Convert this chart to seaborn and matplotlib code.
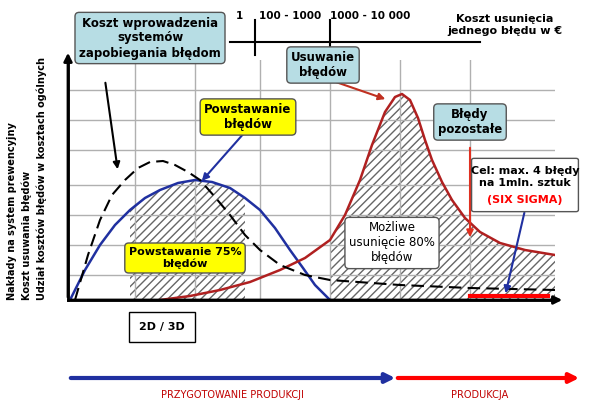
import numpy as np
import matplotlib
matplotlib.use("Agg")
import matplotlib.pyplot as plt
import seaborn as sns
from matplotlib.patches import FancyArrowPatch, FancyBboxPatch

# curve values (horizontal position along the process, cost level)
blue_x = [2, 17, 32, 47, 62, 77, 92, 110, 127, 144, 162, 177, 192, 207, 222, 235, 247, 262]
blue_y = [0, 30, 55, 75, 90, 102, 110, 117, 120, 118, 112, 102, 90, 72, 50, 32, 15, 0]
dash_x = [7, 20, 32, 44, 57, 70, 82, 95, 107, 120, 132, 147, 162, 177, 192, 212, 237, 262, 332, 402, 487]
dash_y = [0, 45, 80, 105, 120, 132, 138, 139, 135, 128, 120, 103, 85, 65, 50, 35, 25, 20, 15, 12, 10]
red_x = [92, 122, 152, 182, 212, 237, 262, 277, 292, 304, 317, 327, 334, 342, 350, 357, 364, 374, 384, 397, 412, 432, 457, 487]
red_y = [0, 4, 10, 18, 30, 42, 60, 85, 120, 155, 188, 203, 206, 200, 182, 160, 140, 118, 100, 82, 68, 57, 50, 45]
scale_labels = ["1", "100 - 1000", "1000 - 10 000"]
ylabels = ["Nakłady na system prewencyjny", "Koszt usuwania błędów",
           "Udział kosztów błędów w kosztach ogólnych"]

fig = plt.figure(figsize=(6.05, 4.12), dpi=100)
W, H = 605, 412
def F(x, y): return (x / W, 1 - y / H)

ax = fig.add_axes([68/W, 1-300/H, 487/W, 240/H])
ax.set_xlim(0, 487); ax.set_ylim(0, 240)
for v in [67, 127, 192, 262, 332, 402]:
    ax.axvline(v, color="#b0b0b0", lw=1)
for h in [25, 55, 85, 115, 150, 180, 210]:
    ax.axhline(h, color="#b0b0b0", lw=1)
for s in ["top", "right"]:
    ax.spines[s].set_visible(False)
ax.spines["left"].set_linewidth(2); ax.spines["bottom"].set_linewidth(2)
ax.set_xticks([]); ax.set_yticks([])

bx = np.array(blue_x); by = np.array(blue_y)
m = (bx >= 62) & (bx <= 177)
ax.fill_between(bx[m], 0, by[m], facecolor="none", hatch="////", edgecolor="#666", lw=0)
rx = np.array(red_x); ry = np.array(red_y)
m = rx >= 262
ax.fill_between(rx[m], 0, ry[m], facecolor="none", hatch="////", edgecolor="#666", lw=0)

sns.lineplot(x=blue_x, y=blue_y, ax=ax, color="#2030a0", lw=1.8, sort=False)
sns.lineplot(x=red_x, y=red_y, ax=ax, color="#b02020", lw=1.8, sort=False)
sns.lineplot(x=dash_x, y=dash_y, ax=ax, color="black", lw=1.5, sort=False, linestyle=(0, (6, 3)))
ax.plot([402, 480], [4, 4], color="red", lw=3)

fig.add_artist(FancyArrowPatch(F(68, 300), F(68, 50), arrowstyle="-|>", mutation_scale=12, lw=2, color="black"))
fig.add_artist(FancyArrowPatch(F(68, 300), F(565, 300), arrowstyle="-|>", mutation_scale=12, lw=2, color="black"))

fig.add_artist(plt.Line2D([230/W, 480/W], [1-42/H]*2, color="black", lw=1.5))
for px in [255, 330]:
    fig.add_artist(plt.Line2D([px/W]*2, [1-20/H, 1-55/H], color="black", lw=1.5))
for px, t in zip([239, 290, 370], scale_labels):
    fig.text(px/W, 1-16/H, t, ha="center", va="center", fontsize=7.5, fontweight="bold")
fig.text(505/W, 1-25/H, "Koszt usunięcia\njednego błędu w €", ha="center", va="center", fontsize=8, fontweight="bold")

for px, t in zip([12, 27, 42], ylabels):
    fig.text(px/W, 1-300/H, t, rotation=90, ha="center", va="bottom", fontsize=7, fontweight="bold")

teal = "#b7dde4"
def box(x, y, t, fc, fs=8.5, color="black", weight="bold"):
    return fig.text(x/W, 1-y/H, t, ha="center", va="center", fontsize=fs, fontweight=weight, color=color,
                    bbox=dict(boxstyle="round,pad=0.35", fc=fc, ec="#555", lw=1))
def arrow(a, b, c="black"):
    fig.add_artist(FancyArrowPatch(F(*a), F(*b), arrowstyle="-|>", mutation_scale=10, lw=1.5, color=c))

arrow((105, 80), (118, 172))
box(150, 38, "Koszt wprowadzenia\nsystemów\nzapobiegania błędom", teal)
arrow((245, 132), (200, 183), "#2030a0")
box(248, 117, "Powstawanie\nbłędów", "#ffff00")
arrow((330, 80), (388, 100), "#c03020")
box(323, 65, "Usuwanie\nbłędów", teal)
arrow((470, 145), (470, 240), "#e03020")
box(470, 122, "Błędy\npozostałe", teal)
arrow((525, 210), (505, 296), "#2030a0")
fig.add_artist(FancyBboxPatch(F(474, 210), 102/W, 50/H, boxstyle="round,pad=0.004",
                              transform=fig.transFigure, fc="white", ec="#555", lw=1))
fig.text(525/W, 1-177/H, "Cel: max. 4 błędy\nna 1mln. sztuk", ha="center", va="center", fontsize=8, fontweight="bold")
fig.text(525/W, 1-200/H, "(SIX SIGMA)", ha="center", va="center", fontsize=8, fontweight="bold", color="red")
box(185, 258, "Powstawanie 75%\nbłędów", "#ffff00", fs=8)
box(392, 243, "Możliwe\nusunięcie 80%\nbłędów", "white", fs=8.5, weight="normal")

fig.text(162/W, 1-327/H, "2D / 3D", ha="center", va="center", fontsize=8, fontweight="bold",
         bbox=dict(boxstyle="square,pad=0.9", fc="white", ec="black", lw=1))

fig.add_artist(FancyArrowPatch(F(68, 378), F(398, 378), arrowstyle="-|>", mutation_scale=14, lw=3, color="#2030a0"))
fig.add_artist(FancyArrowPatch(F(395, 378), F(582, 378), arrowstyle="-|>", mutation_scale=14, lw=3, color="red"))
fig.text(232/W, 1-395/H, "PRZYGOTOWANIE PRODUKCJI", ha="center", va="center", fontsize=7, color="#c00000")
fig.text(480/W, 1-395/H, "PRODUKCJA", ha="center", va="center", fontsize=7, color="#c00000")

fig.savefig("out.png", dpi=100)
